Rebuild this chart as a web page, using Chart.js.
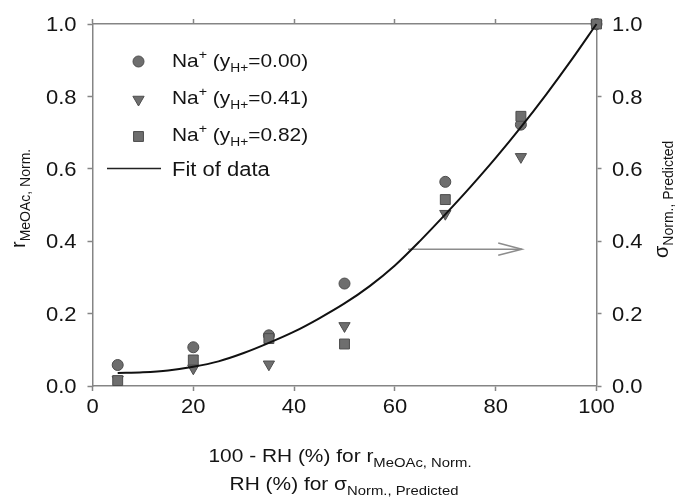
<!DOCTYPE html>
<html>
<head>
<meta charset="utf-8">
<script src="https://cdn.jsdelivr.net/npm/chart.js@4.4.1/dist/chart.umd.min.js"></script>
<style>
  html, body { margin: 0; padding: 0; background: #fff; }
  #wrap { width: 680px; height: 500px; }
</style>
</head>
<body>
<div id="wrap"><canvas id="c" width="680" height="500"></canvas></div>
<script>
// Humidity coordinate (100 - RH for the rate, RH for the conductivity)
const rhPercent = [5, 20, 35, 50, 70, 85, 100];

// Normalised MeOAc rate for three H+ fractions
const rateY000 = [0.058, 0.107, 0.140, 0.283, 0.564, 0.722, 1.0];
const rateY041 = [0.018, 0.049, 0.060, 0.166, 0.476, 0.633, 1.0];
const rateY082 = [0.015, 0.072, 0.131, 0.116, 0.515, 0.745, 1.0];

// Fitted curve through the data
const fitX = [5, 10, 15, 20, 25, 30, 35, 40, 45, 50, 55, 60, 65, 70, 75, 80, 85, 90, 95, 100];
const fitY = [0.036, 0.038, 0.043, 0.053, 0.068, 0.091, 0.119, 0.150, 0.187, 0.228, 0.276, 0.333, 0.401, 0.474, 0.550, 0.630, 0.715, 0.805, 0.900, 1.0];

// Arrow pointing from the curve towards the right-hand axis
const arrowX = [62.6, 85.2];
const arrowY = [0.378, 0.378];
const arrowHeadX = [80.5, 85.2, 80.5];
const arrowHeadY = [0.395, 0.378, 0.361];

// Axis ticks
const xTicks = [0, 20, 40, 60, 80, 100];
const yTicks = [0.0, 0.2, 0.4, 0.6, 0.8, 1.0];

const FONT = "'Liberation Sans', Arial, sans-serif";
const SX = 1.1;            // slightly widened lettering
const TEXT = '#141414';
const AXIS_GREY = '#858585';
const MARK_FILL = '#6e6e6e';
const MARK_EDGE = '#4d4d4d';

const pts = (xs, ys) => xs.map((x, i) => ({ x: x, y: ys[i] }));

const markerStyles = {
  circle:   { pointStyle: 'circle',   radius: 5.5, rotation: 0 },
  triangle: { pointStyle: 'triangle', radius: 6.5, rotation: 180 },
  rect:     { pointStyle: 'rect',     radius: 7,   rotation: 0 }
};

function markerSet(label, ys, m) {
  return {
    label: label,
    data: pts(rhPercent, ys),
    showLine: false,
    pointStyle: m.pointStyle,
    pointRadius: m.radius,
    pointRotation: m.rotation,
    pointBackgroundColor: MARK_FILL,
    pointBorderColor: MARK_EDGE,
    pointBorderWidth: 1,
    clip: false
  };
}

// Draws a run of text pieces (each with its own size and vertical shift),
// anchored at (x, y) and stretched horizontally by sx
function richText(ctx, parts, x, y, align, sx) {
  let total = 0;
  parts.forEach(p => { ctx.font = p.size + 'px ' + FONT; total += ctx.measureText(p.t).width; });
  let cx = align === 'center' ? -total / 2 : (align === 'right' ? -total : 0);
  ctx.save();
  ctx.translate(x, y);
  ctx.scale(sx || 1, 1);
  ctx.textAlign = 'left';
  ctx.textBaseline = 'alphabetic';
  parts.forEach(p => {
    ctx.font = p.size + 'px ' + FONT;
    ctx.fillText(p.t, cx, p.dy || 0);
    cx += ctx.measureText(p.t).width;
  });
  ctx.restore();
}

const labelsPlugin = {
  id: 'labels',
  afterDraw(chart) {
    const ctx = chart.ctx;
    const sx = chart.scales.x, sy = chart.scales.y, sy2 = chart.scales.y2;
    ctx.save();
    ctx.fillStyle = TEXT;

    // tick labels
    xTicks.forEach(v => richText(ctx, [{ t: String(v), size: 20 }], sx.getPixelForValue(v), 413, 'center', SX));
    yTicks.forEach(v => {
      const py = sy.getPixelForValue(v) + 7.2;
      richText(ctx, [{ t: v.toFixed(1), size: 20 }], 76.5, py, 'right', SX);
      richText(ctx, [{ t: v.toFixed(1), size: 20 }], sy2.getPixelForValue(v) * 0 + 612, sy2.getPixelForValue(v) + 7.2, 'left', SX);
    });

    // x-axis titles (two lines)
    richText(ctx, [
      { t: '100 - RH (%) for r', size: 19 },
      { t: 'MeOAc, Norm.', size: 13.5, dy: 5 }
    ], 340, 462, 'center', SX);
    richText(ctx, [
      { t: 'RH (%) for σ', size: 19 },
      { t: 'Norm., Predicted', size: 13.5, dy: 5 }
    ], 344, 490, 'center', SX);

    // left y-axis title
    ctx.save();
    ctx.translate(25, 248);
    ctx.rotate(-Math.PI / 2);
    richText(ctx, [
      { t: 'r', size: 20 },
      { t: 'MeOAc, Norm.', size: 14, dy: 5 }
    ], 0, 0, 'left', 1);
    ctx.restore();

    // right y-axis title
    ctx.save();
    ctx.translate(668, 258);
    ctx.rotate(-Math.PI / 2);
    richText(ctx, [
      { t: 'σ', size: 20 },
      { t: 'Norm., Predicted', size: 14, dy: 5 }
    ], 0, 0, 'left', 1);
    ctx.restore();

    // legend
    const rows = [
      { m: markerStyles.circle,   val: '0.00', y: 67,  my: 61.5 },
      { m: markerStyles.triangle, val: '0.41', y: 104, my: 99.5 },
      { m: markerStyles.rect,     val: '0.82', y: 141, my: 136.5 }
    ];
    rows.forEach(r => {
      ctx.fillStyle = MARK_FILL;
      ctx.strokeStyle = MARK_EDGE;
      ctx.lineWidth = 1;
      Chart.helpers.drawPoint(ctx, {
        pointStyle: r.m.pointStyle, radius: r.m.radius, rotation: r.m.rotation, borderWidth: 1
      }, 138.5, r.my);
      ctx.fillStyle = TEXT;
      richText(ctx, [
        { t: 'Na', size: 19 },
        { t: '+', size: 13, dy: -8 },
        { t: ' (y', size: 19 },
        { t: 'H+', size: 12.5, dy: 5 },
        { t: '=' + r.val + ')', size: 19 }
      ], 172, r.y, 'left', SX);
    });
    ctx.strokeStyle = '#222';
    ctx.lineWidth = 1.5;
    ctx.beginPath();
    ctx.moveTo(107, 168.5);
    ctx.lineTo(161, 168.5);
    ctx.stroke();
    ctx.fillStyle = TEXT;
    richText(ctx, [{ t: 'Fit of data', size: 20 }], 172, 176, 'left', SX);

    ctx.restore();
  }
};

const gridOpts = {
  drawOnChartArea: false,
  drawTicks: true,
  tickLength: 5,
  tickColor: AXIS_GREY,
  tickWidth: 1.5
};
const borderOpts = { color: AXIS_GREY, width: 1.5 };

function axis(position, max, ticks, size) {
  return {
    type: 'linear', position: position, min: 0, max: max,
    afterBuildTicks: s => { s.ticks = ticks.map(v => ({ value: v })); },
    ticks: { display: false },
    grid: gridOpts, border: borderOpts,
    afterFit: s => {
      if (position === 'top' || position === 'bottom') s.height = size; else s.width = size;
    }
  };
}

new Chart(document.getElementById('c'), {
  type: 'scatter',
  data: {
    datasets: [
      {
        label: 'Fit of data',
        data: pts(fitX, fitY),
        showLine: true,
        borderColor: '#111',
        borderWidth: 2,
        pointRadius: 0,
        cubicInterpolationMode: 'monotone',
        clip: false
      },
      {
        label: 'arrow',
        data: pts(arrowX, arrowY),
        showLine: true,
        borderColor: '#8c8c8c',
        borderWidth: 1.5,
        pointRadius: 0,
        clip: false
      },
      {
        label: 'arrow head',
        data: pts(arrowHeadX, arrowHeadY),
        showLine: true,
        borderColor: '#8c8c8c',
        borderWidth: 1.5,
        pointRadius: 0,
        clip: false
      },
      markerSet('Na+ (yH+=0.82)', rateY082, markerStyles.rect),
      markerSet('Na+ (yH+=0.41)', rateY041, markerStyles.triangle),
      markerSet('Na+ (yH+=0.00)', rateY000, markerStyles.circle)
    ]
  },
  options: {
    responsive: false,
    animation: false,
    devicePixelRatio: 1,
    layout: { padding: 0 },
    plugins: { legend: { display: false }, tooltip: { enabled: false } },
    scales: {
      x:  axis('bottom', 100, xTicks, 114),
      x2: axis('top', 100, xTicks, 24),
      y:  axis('left', 1, yTicks, 92.5),
      y2: axis('right', 1, yTicks, 83.5)
    }
  },
  plugins: [labelsPlugin]
});
</script>
</body>
</html>
